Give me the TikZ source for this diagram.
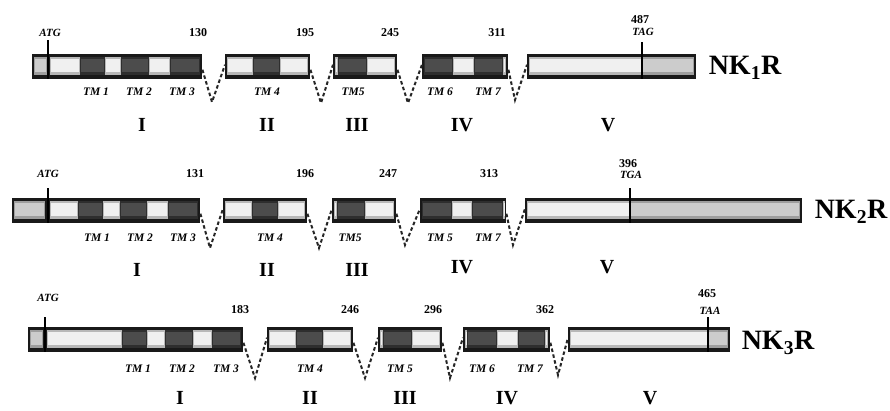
\documentclass[tikz,border=0pt]{standalone}
\usepackage{fontspec}
\setmainfont{Liberation Serif}
\newcommand{\exonbox}[4]{\node[exon, minimum width={#3-#2}, anchor=north west] (#1) at (#2,#4) {};}
\newcommand{\sg}[4]{\fill[#1a] (#2,#4+2.5) rectangle (#3,#4+20.5);\fill[#1b] (#2+1,#4+4.5) rectangle (#3-1,#4+18);}
\begin{document}
\begin{tikzpicture}[x=1pt,y=-1pt,
  exon/.style={fill=black!90, inner sep=0pt, minimum height=25pt, draw=none},
  lta/.style={fill=black!28}, ltb/.style={fill=black!6},
  lga/.style={fill=black!38}, lgb/.style={fill=black!20},
  dka/.style={fill=black!82}, dkb/.style={fill=black!70},
  splice/.style={line width=2pt, dash pattern=on 3.5pt off 2.5pt, black!85},
  num/.style={font=\fontsize{12}{12}\selectfont\bfseries, inner sep=0pt},
  cod/.style={font=\fontsize{11}{11}\selectfont\bfseries\itshape, inner sep=0pt},
  tm/.style={font=\fontsize{11.5}{11.5}\selectfont\bfseries\itshape, inner sep=0pt},
  rom/.style={font=\fontsize{20}{20}\selectfont\bfseries, inner sep=0pt},
  nk/.style={font=\fontsize{28}{28}\selectfont\bfseries, inner sep=0pt},
  tick/.style={line width=2pt, black}]
\useasboundingbox (0,0) rectangle (890,410);
\fill[white] (0,0) rectangle (890,410);

% ===== Row 1: NK1R =====
\exonbox{a1}{32}{202}{54}
\sg{lg}{34}{47}{54}\sg{lt}{50}{80}{54}\sg{dk}{80}{105}{54}\sg{lt}{105}{121}{54}
\sg{dk}{121}{149}{54}\sg{lt}{149}{170}{54}\sg{dk}{170}{200}{54}
\exonbox{a2}{225}{310}{54}
\sg{lt}{227}{253}{54}\sg{dk}{253}{280}{54}\sg{lt}{280}{308}{54}
\exonbox{a3}{333}{397}{54}
\sg{lt}{335}{338}{54}\sg{dk}{338}{367}{54}\sg{lt}{367}{395}{54}
\exonbox{a4}{422}{508}{54}
\sg{dk}{424}{453}{54}\sg{lt}{453}{474}{54}\sg{dk}{474}{503}{54}\sg{lt}{503}{506}{54}
\exonbox{a5}{527}{696}{54}
\sg{lt}{529}{642}{54}\sg{lg}{642}{694}{54}
\coordinate (ta1) at (48,40); \draw[tick] (ta1) -- (ta1 |- a1.south);
\coordinate (ta2) at (642,42); \draw[tick] (ta2) -- (ta2 |- a5.south);
\coordinate (va1) at (212,102); \coordinate (va2) at (321,103);
\coordinate (va3) at (408,103); \coordinate (va4) at (515,100);
\draw[splice] ([yshift=-3pt]a1.east) -- (va1) -- ([yshift=2pt]a2.west);
\draw[splice] ([yshift=-3pt]a2.east) -- (va2) -- ([yshift=2pt]a3.west);
\draw[splice] ([yshift=-3pt]a3.east) -- (va3) -- ([yshift=2pt]a4.west);
\draw[splice] ([yshift=-3pt]a4.east) -- (va4) -- ([yshift=2pt]a5.west);
\node[cod] (la0) at (50,33) {ATG};
\node[num] (la1) at (198,33) {130};
\node[num] (la2) at (305,33) {195};
\node[num] (la3) at (390,33) {245};
\node[num] (la4) at (497,33) {311};
\node[num] (la5) at (640,20) {487};
\node[cod] (la6) at (643,32) {TAG};
\node[tm] (ma1) at (96,92) {TM 1};
\node[tm] (ma2) at (139,92) {TM 2};
\node[tm] (ma3) at (182,92) {TM 3};
\node[tm] (ma4) at (267,92) {TM 4};
\node[tm] (ma5) at (353,92) {TM5};
\node[tm] (ma6) at (440,92) {TM 6};
\node[tm] (ma7) at (488,92) {TM 7};
\node[rom] (ra1) at (142,125) {I};
\node[rom] (ra2) at (267,125) {II};
\node[rom] (ra3) at (357,125) {III};
\node[rom] (ra4) at (462,125) {IV};
\node[rom] (ra5) at (608,125) {V};
\node[nk] (nk1) at (745,68) {NK\textsubscript{1}R};

% ===== Row 2: NK2R =====
\exonbox{b1}{12}{200}{198}
\sg{lg}{14}{45}{198}\sg{lt}{50}{78}{198}\sg{dk}{78}{103}{198}\sg{lt}{103}{120}{198}
\sg{dk}{120}{147}{198}\sg{lt}{147}{168}{198}\sg{dk}{168}{198}{198}
\exonbox{b2}{223}{307}{198}
\sg{lt}{225}{252}{198}\sg{dk}{252}{278}{198}\sg{lt}{278}{305}{198}
\exonbox{b3}{332}{396}{198}
\sg{lt}{334}{337}{198}\sg{dk}{337}{365}{198}\sg{lt}{365}{394}{198}
\exonbox{b4}{420}{506}{198}
\sg{dk}{422}{452}{198}\sg{lt}{452}{472}{198}\sg{dk}{472}{503}{198}\sg{lt}{503}{504.5}{198}
\exonbox{b5}{525}{802}{198}
\sg{lt}{527}{630}{198}\sg{lg}{630}{800}{198}
\coordinate (tb1) at (48,188); \draw[tick] (tb1) -- (tb1 |- b1.south);
\coordinate (tb2) at (630,188); \draw[tick] (tb2) -- (tb2 |- b5.south);
\coordinate (vb1) at (210,248); \coordinate (vb2) at (319,248);
\coordinate (vb3) at (405,245); \coordinate (vb4) at (513,245);
\draw[splice] ([yshift=-3pt]b1.east) -- (vb1) -- ([yshift=2pt]b2.west);
\draw[splice] ([yshift=-3pt]b2.east) -- (vb2) -- ([yshift=2pt]b3.west);
\draw[splice] ([yshift=-3pt]b3.east) -- (vb3) -- ([yshift=2pt]b4.west);
\draw[splice] ([yshift=-3pt]b4.east) -- (vb4) -- ([yshift=2pt]b5.west);
\node[cod] (lb0) at (48,174) {ATG};
\node[num] (lb1) at (195,174) {131};
\node[num] (lb2) at (305,174) {196};
\node[num] (lb3) at (388,174) {247};
\node[num] (lb4) at (489,174) {313};
\node[num] (lb5) at (628,164) {396};
\node[cod] (lb6) at (631,175) {TGA};
\node[tm] (mb1) at (97,238) {TM 1};
\node[tm] (mb2) at (140,238) {TM 2};
\node[tm] (mb3) at (183,238) {TM 3};
\node[tm] (mb4) at (270,238) {TM 4};
\node[tm] (mb5) at (350,238) {TM5};
\node[tm] (mb6) at (440,238) {TM 5};
\node[tm] (mb7) at (488,238) {TM 7};
\node[rom] (rb1) at (137,270) {I};
\node[rom] (rb2) at (267,270) {II};
\node[rom] (rb3) at (357,270) {III};
\node[rom] (rb4) at (462,267) {IV};
\node[rom] (rb5) at (607,267) {V};
\node[nk] (nk2) at (851,212) {NK\textsubscript{2}R};

% ===== Row 3: NK3R =====
\exonbox{c1}{28}{243}{327}
\sg{lg}{30}{43}{327}\sg{lt}{47}{122}{327}\sg{dk}{122}{147}{327}\sg{lt}{147}{165}{327}
\sg{dk}{165}{193}{327}\sg{lt}{193}{212}{327}\sg{dk}{212}{241}{327}
\exonbox{c2}{267}{353}{327}
\sg{lt}{269}{296}{327}\sg{dk}{296}{323}{327}\sg{lt}{323}{351}{327}
\exonbox{c3}{378}{442}{327}
\sg{lt}{380}{383}{327}\sg{dk}{383}{412}{327}\sg{lt}{412}{440}{327}
\exonbox{c4}{463}{550}{327}
\sg{lt}{465}{467.5}{327}\sg{dk}{467}{497}{327}\sg{lt}{497}{518}{327}\sg{dk}{518}{545}{327}\sg{lt}{545}{548}{327}
\exonbox{c5}{568}{730}{327}
\sg{lt}{570}{708}{327}\sg{lg}{708}{728}{327}
\coordinate (tc1) at (45,317); \draw[tick] (tc1) -- (tc1 |- c1.south);
\coordinate (tc2) at (708,317); \draw[tick] (tc2) -- (tc2 |- c5.south);
\coordinate (vc1) at (255,378); \coordinate (vc2) at (365,378);
\coordinate (vc3) at (450,378); \coordinate (vc4) at (558,375);
\draw[splice] ([yshift=-3pt]c1.east) -- (vc1) -- ([yshift=2pt]c2.west);
\draw[splice] ([yshift=-3pt]c2.east) -- (vc2) -- ([yshift=2pt]c3.west);
\draw[splice] ([yshift=-3pt]c3.east) -- (vc3) -- ([yshift=2pt]c4.west);
\draw[splice] ([yshift=-3pt]c4.east) -- (vc4) -- ([yshift=2pt]c5.west);
\node[cod] (lc0) at (48,298) {ATG};
\node[num] (lc1) at (240,310) {183};
\node[num] (lc2) at (350,310) {246};
\node[num] (lc3) at (433,310) {296};
\node[num] (lc4) at (545,310) {362};
\node[num] (lc5) at (707,294) {465};
\node[cod] (lc6) at (710,311) {TAA};
\node[tm] (mc1) at (138,369) {TM 1};
\node[tm] (mc2) at (182,369) {TM 2};
\node[tm] (mc3) at (226,369) {TM 3};
\node[tm] (mc4) at (310,369) {TM 4};
\node[tm] (mc5) at (400,369) {TM 5};
\node[tm] (mc6) at (482,369) {TM 6};
\node[tm] (mc7) at (530,369) {TM 7};
\node[rom] (rc1) at (180,398) {I};
\node[rom] (rc2) at (310,398) {II};
\node[rom] (rc3) at (405,398) {III};
\node[rom] (rc4) at (507,398) {IV};
\node[rom] (rc5) at (650,398) {V};
\node[nk] (nk3) at (778,343) {NK\textsubscript{3}R};
\end{tikzpicture}
\end{document}
